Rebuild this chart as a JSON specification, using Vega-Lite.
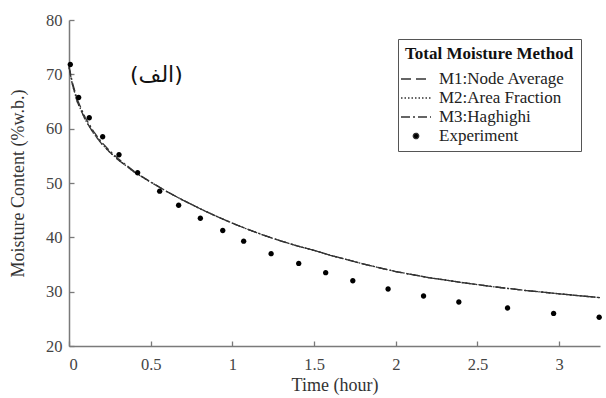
{
  "$schema": "https://vega.github.io/schema/vega-lite/v6.json",
  "width": 531,
  "height": 326,
  "autosize": "none",
  "padding": {"left": 69, "top": 20, "right": 6, "bottom": 52},
  "background": "white",
  "config": {
    "view": {"stroke": null},
    "font": "Liberation Serif",
    "axis": {
      "grid": false,
      "domainColor": "#7a7a7a",
      "domainWidth": 1.5,
      "tickColor": "#7a7a7a",
      "tickWidth": 1.3,
      "tickSize": -5,
      "labelFont": "Liberation Serif",
      "labelFontSize": 16.5,
      "labelColor": "#444444",
      "titleFont": "Liberation Serif",
      "titleFontSize": 18,
      "titleFontWeight": "normal",
      "titleColor": "#333333"
    }
  },
  "datasets": {
    "curves": [
      {"t": 0, "mc": 71.5, "method": "M3:Haghighi"},
      {"t": 0.02, "mc": 68.6, "method": "M3:Haghighi"},
      {"t": 0.05, "mc": 65.4, "method": "M3:Haghighi"},
      {"t": 0.1, "mc": 62.0, "method": "M3:Haghighi"},
      {"t": 0.15, "mc": 59.5, "method": "M3:Haghighi"},
      {"t": 0.2, "mc": 57.5, "method": "M3:Haghighi"},
      {"t": 0.25, "mc": 55.9, "method": "M3:Haghighi"},
      {"t": 0.3, "mc": 54.5, "method": "M3:Haghighi"},
      {"t": 0.4, "mc": 52.1, "method": "M3:Haghighi"},
      {"t": 0.5, "mc": 50.2, "method": "M3:Haghighi"},
      {"t": 0.6, "mc": 48.4, "method": "M3:Haghighi"},
      {"t": 0.7, "mc": 46.8, "method": "M3:Haghighi"},
      {"t": 0.8, "mc": 45.3, "method": "M3:Haghighi"},
      {"t": 0.9, "mc": 43.9, "method": "M3:Haghighi"},
      {"t": 1.0, "mc": 42.6, "method": "M3:Haghighi"},
      {"t": 1.1, "mc": 41.4, "method": "M3:Haghighi"},
      {"t": 1.2, "mc": 40.3, "method": "M3:Haghighi"},
      {"t": 1.3, "mc": 39.3, "method": "M3:Haghighi"},
      {"t": 1.4, "mc": 38.4, "method": "M3:Haghighi"},
      {"t": 1.5, "mc": 37.6, "method": "M3:Haghighi"},
      {"t": 1.6, "mc": 36.7, "method": "M3:Haghighi"},
      {"t": 1.8, "mc": 35.1, "method": "M3:Haghighi"},
      {"t": 2.0, "mc": 33.7, "method": "M3:Haghighi"},
      {"t": 2.2, "mc": 32.6, "method": "M3:Haghighi"},
      {"t": 2.4, "mc": 31.7, "method": "M3:Haghighi"},
      {"t": 2.6, "mc": 30.9, "method": "M3:Haghighi"},
      {"t": 2.8, "mc": 30.2, "method": "M3:Haghighi"},
      {"t": 3.0, "mc": 29.6, "method": "M3:Haghighi"},
      {"t": 3.25, "mc": 28.9, "method": "M3:Haghighi"},
      {"t": 0, "mc": 71.3, "method": "M1:Node Average"},
      {"t": 0.02, "mc": 68.2, "method": "M1:Node Average"},
      {"t": 0.05, "mc": 65.0, "method": "M1:Node Average"},
      {"t": 0.1, "mc": 61.6, "method": "M1:Node Average"},
      {"t": 0.15, "mc": 59.15, "method": "M1:Node Average"},
      {"t": 0.2, "mc": 57.2, "method": "M1:Node Average"},
      {"t": 0.25, "mc": 55.65, "method": "M1:Node Average"},
      {"t": 0.3, "mc": 54.3, "method": "M1:Node Average"},
      {"t": 0.4, "mc": 52.0, "method": "M1:Node Average"},
      {"t": 0.5, "mc": 50.15, "method": "M1:Node Average"},
      {"t": 0.6, "mc": 48.4, "method": "M1:Node Average"},
      {"t": 0.7, "mc": 46.8, "method": "M1:Node Average"},
      {"t": 0.8, "mc": 45.3, "method": "M1:Node Average"},
      {"t": 0.9, "mc": 43.9, "method": "M1:Node Average"},
      {"t": 1.0, "mc": 42.6, "method": "M1:Node Average"},
      {"t": 1.1, "mc": 41.4, "method": "M1:Node Average"},
      {"t": 1.2, "mc": 40.3, "method": "M1:Node Average"},
      {"t": 1.3, "mc": 39.3, "method": "M1:Node Average"},
      {"t": 1.4, "mc": 38.4, "method": "M1:Node Average"},
      {"t": 1.5, "mc": 37.6, "method": "M1:Node Average"},
      {"t": 1.6, "mc": 36.7, "method": "M1:Node Average"},
      {"t": 1.8, "mc": 35.1, "method": "M1:Node Average"},
      {"t": 2.0, "mc": 33.7, "method": "M1:Node Average"},
      {"t": 2.2, "mc": 32.6, "method": "M1:Node Average"},
      {"t": 2.4, "mc": 31.7, "method": "M1:Node Average"},
      {"t": 2.6, "mc": 30.9, "method": "M1:Node Average"},
      {"t": 2.8, "mc": 30.2, "method": "M1:Node Average"},
      {"t": 3.0, "mc": 29.6, "method": "M1:Node Average"},
      {"t": 3.25, "mc": 28.9, "method": "M1:Node Average"},
      {"t": 0, "mc": 71.3, "method": "M2:Area Fraction"},
      {"t": 0.02, "mc": 68.2, "method": "M2:Area Fraction"},
      {"t": 0.05, "mc": 65.0, "method": "M2:Area Fraction"},
      {"t": 0.1, "mc": 61.6, "method": "M2:Area Fraction"},
      {"t": 0.15, "mc": 59.15, "method": "M2:Area Fraction"},
      {"t": 0.2, "mc": 57.2, "method": "M2:Area Fraction"},
      {"t": 0.25, "mc": 55.65, "method": "M2:Area Fraction"},
      {"t": 0.3, "mc": 54.3, "method": "M2:Area Fraction"},
      {"t": 0.4, "mc": 52.0, "method": "M2:Area Fraction"},
      {"t": 0.5, "mc": 50.15, "method": "M2:Area Fraction"},
      {"t": 0.6, "mc": 48.4, "method": "M2:Area Fraction"},
      {"t": 0.7, "mc": 46.8, "method": "M2:Area Fraction"},
      {"t": 0.8, "mc": 45.3, "method": "M2:Area Fraction"},
      {"t": 0.9, "mc": 43.9, "method": "M2:Area Fraction"},
      {"t": 1.0, "mc": 42.6, "method": "M2:Area Fraction"},
      {"t": 1.1, "mc": 41.4, "method": "M2:Area Fraction"},
      {"t": 1.2, "mc": 40.3, "method": "M2:Area Fraction"},
      {"t": 1.3, "mc": 39.3, "method": "M2:Area Fraction"},
      {"t": 1.4, "mc": 38.4, "method": "M2:Area Fraction"},
      {"t": 1.5, "mc": 37.6, "method": "M2:Area Fraction"},
      {"t": 1.6, "mc": 36.7, "method": "M2:Area Fraction"},
      {"t": 1.8, "mc": 35.1, "method": "M2:Area Fraction"},
      {"t": 2.0, "mc": 33.7, "method": "M2:Area Fraction"},
      {"t": 2.2, "mc": 32.6, "method": "M2:Area Fraction"},
      {"t": 2.4, "mc": 31.7, "method": "M2:Area Fraction"},
      {"t": 2.6, "mc": 30.9, "method": "M2:Area Fraction"},
      {"t": 2.8, "mc": 30.2, "method": "M2:Area Fraction"},
      {"t": 3.0, "mc": 29.6, "method": "M2:Area Fraction"},
      {"t": 3.25, "mc": 28.9, "method": "M2:Area Fraction"}
    ],
    "exp": [
      {"t": 0.008, "mc": 71.8, "method": "Experiment"},
      {"t": 0.059, "mc": 65.75, "method": "Experiment"},
      {"t": 0.124, "mc": 62.0, "method": "Experiment"},
      {"t": 0.206, "mc": 58.5, "method": "Experiment"},
      {"t": 0.306, "mc": 55.2, "method": "Experiment"},
      {"t": 0.42, "mc": 51.9, "method": "Experiment"},
      {"t": 0.555, "mc": 48.5, "method": "Experiment"},
      {"t": 0.671, "mc": 45.9, "method": "Experiment"},
      {"t": 0.804, "mc": 43.5, "method": "Experiment"},
      {"t": 0.941, "mc": 41.25, "method": "Experiment"},
      {"t": 1.069, "mc": 39.3, "method": "Experiment"},
      {"t": 1.237, "mc": 37.0, "method": "Experiment"},
      {"t": 1.406, "mc": 35.2, "method": "Experiment"},
      {"t": 1.571, "mc": 33.5, "method": "Experiment"},
      {"t": 1.737, "mc": 32.0, "method": "Experiment"},
      {"t": 1.953, "mc": 30.5, "method": "Experiment"},
      {"t": 2.17, "mc": 29.2, "method": "Experiment"},
      {"t": 2.386, "mc": 28.1, "method": "Experiment"},
      {"t": 2.684, "mc": 27.0, "method": "Experiment"},
      {"t": 2.966, "mc": 26.0, "method": "Experiment"},
      {"t": 3.245, "mc": 25.3, "method": "Experiment"}
    ],
    "note": [
      {"t": 0.535, "mc": 69.9, "label": "(الف)"}
    ]
  },
  "encoding": {
    "x": {
      "field": "t",
      "type": "quantitative",
      "scale": {"domain": [0, 3.25], "nice": false, "zero": false},
      "axis": {
        "title": "Time (hour)",
        "values": [0, 0.5, 1, 1.5, 2, 2.5, 3],
        "format": "~g",
        "labelPadding": 15,
        "titlePadding": 4
      }
    },
    "y": {
      "field": "mc",
      "type": "quantitative",
      "scale": {"domain": [20, 80], "nice": false, "zero": false},
      "axis": {
        "title": "Moisture Content (%w.b.)",
        "values": [20, 30, 40, 50, 60, 70, 80],
        "labelPadding": 12,
        "titlePadding": 18
      }
    }
  },
  "layer": [
    {
      "data": {"name": "curves"},
      "mark": {"type": "line", "color": "#333333", "strokeWidth": 1.3},
      "encoding": {
        "detail": {"field": "method"},
        "strokeDash": {
          "field": "method",
          "type": "nominal",
          "scale": {
            "domain": ["M1:Node Average", "M2:Area Fraction", "M3:Haghighi", "Experiment"],
            "range": [[10, 5], [1.5, 2], [9, 3, 2, 3], [1, 0]]
          },
          "legend": {
            "title": "Total Moisture Method",
            "orient": "none",
            "legendX": 329,
            "legendY": 19,
            "strokeColor": "#555555",
            "fillColor": "white",
            "padding": 7,
            "titleFont": "Liberation Serif",
            "titleFontSize": 17,
            "titleFontWeight": "bold",
            "titleColor": "#111111",
            "titlePadding": 5,
            "labelFont": "Liberation Serif",
            "labelFontSize": 17,
            "labelColor": "#222222",
            "symbolSize": 400,
            "symbolStrokeColor": "#333333",
            "symbolStrokeWidth": 1.3,
            "symbolFillColor": "black",
            "rowPadding": 0,
            "labelOffset": 12,
            "encode": {
              "symbols": {
                "update": {
                  "stroke": {"value": "#333333"},
                  "strokeWidth": {"value": 1.3},
                  "fill": {"value": "black"},
                  "size": {"value": 400}
                }
              }
            }
          }
        }
      }
    },
    {
      "data": {"name": "exp"},
      "mark": {"type": "point", "filled": true, "color": "black", "opacity": 1, "size": 400},
      "encoding": {
        "shape": {
          "field": "method",
          "type": "nominal",
          "scale": {
            "domain": ["M1:Node Average", "M2:Area Fraction", "M3:Haghighi", "Experiment"],
            "range": ["M-1.5,0H1.5", "M-1.5,0H1.5", "M-1.5,0H1.5", "M-0.27,0A0.27,0.27,0,1,1,0.27,0A0.27,0.27,0,1,1,-0.27,0Z"]
          },
          "legend": {
            "title": "Total Moisture Method",
            "orient": "none",
            "legendX": 329,
            "legendY": 19,
            "symbolSize": 400
          }
        }
      }
    },
    {
      "data": {"name": "note"},
      "mark": {"type": "text", "font": "DejaVu Sans", "fontSize": 22, "color": "#111111"},
      "encoding": {"text": {"field": "label"}}
    }
  ]
}
